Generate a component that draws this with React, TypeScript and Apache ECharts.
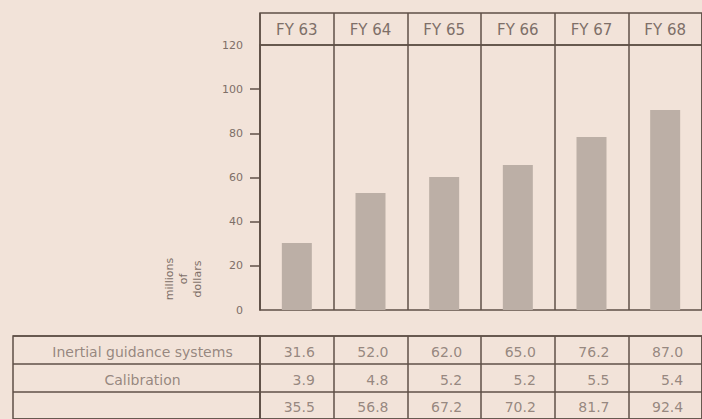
import React, { useEffect, useRef } from "react";
import * as echarts from "echarts";

const years = ["FY 63", "FY 64", "FY 65", "FY 66", "FY 67", "FY 68"];
const barHeights = [30.3, 53.0, 60.2, 65.7, 78.3, 90.6];
const inertial = [31.6, 52.0, 62.0, 65.0, 76.2, 87.0];
const calibration = [3.9, 4.8, 5.2, 5.2, 5.5, 5.4];
const totals = [35.5, 56.8, 67.2, 70.2, 81.7, 92.4];
const rowLabels = ["Inertial guidance systems", "Calibration", ""];
const yTicks = [20, 40, 60, 80, 100];

const BG = "#f2e3d9";
const LINE = "#5f5047";
const TEXT = "#7e6f68";
const BAR = "#bcafa6";
const FONT = "DejaVu Sans";

export default function App() {
  const ref = useRef<HTMLDivElement>(null);
  useEffect(() => {
    document.body.style.margin = "0";
    document.body.style.background = BG;
    const chart = echarts.init(ref.current!, null, { renderer: "svg" });
    const rowKeys = ["r0", "r1", "r2"];
    const tableRows = [inertial, calibration, totals];
    const tableData: any[] = [];
    tableRows.forEach((row, ri) =>
      row.forEach((v, ci) => tableData.push([ci, ri, v]))
    );
    const labelData = rowLabels.map((t, ri) => [0, ri, t]);
    const gridBase = { show: true, borderColor: LINE, borderWidth: 1.5, backgroundColor: "transparent" };
    const hiddenValueAxis = (gi: number) => ({ type: "value", gridIndex: gi, show: false });
    chart.setOption({
      animation: false,
      backgroundColor: BG,
      textStyle: { fontFamily: FONT },
      grid: [
        { ...gridBase, left: 260, top: 45, width: 445, height: 265 },
        { ...gridBase, left: 260, top: 13, width: 445, height: 32 },
        { ...gridBase, left: 13, top: 336, width: 247, height: 86 },
        { ...gridBase, left: 260, top: 336, width: 445, height: 86 },
      ],
      xAxis: [
        {
          type: "category",
          gridIndex: 0,
          data: years,
          position: "top",
          axisLine: { show: false },
          axisTick: { show: false },
          axisLabel: { color: TEXT, fontSize: 15, margin: 8, fontFamily: FONT },
          splitLine: { show: true, lineStyle: { color: LINE, width: 1.5 } },
        },
        {
          type: "category",
          gridIndex: 1,
          data: years,
          axisLine: { show: false },
          axisTick: { show: false },
          axisLabel: { show: false },
          splitLine: { show: true, lineStyle: { color: LINE, width: 1.5 } },
        },
        {
          type: "category",
          gridIndex: 2,
          data: [""],
          axisLine: { show: false },
          axisTick: { show: false },
          axisLabel: { show: false },
        },
        {
          type: "category",
          gridIndex: 3,
          data: years,
          axisLine: { show: false },
          axisTick: { show: false },
          axisLabel: { show: false },
          splitLine: { show: true, lineStyle: { color: LINE, width: 1.5 } },
        },
      ],
      yAxis: [
        {
          type: "value",
          gridIndex: 0,
          min: 0,
          max: 120,
          interval: 20,
          axisLine: { show: true, lineStyle: { color: LINE, width: 1.5 } },
          axisTick: { show: true, length: 10, customValues: yTicks, lineStyle: { color: LINE, width: 1.5 } },
          axisLabel: { color: TEXT, fontSize: 11, margin: 17, fontFamily: FONT },
          splitLine: { show: false },
        },
        hiddenValueAxis(1),
        {
          type: "category",
          gridIndex: 2,
          data: rowKeys,
          inverse: true,
          axisLine: { show: false },
          axisTick: { show: false },
          axisLabel: { show: false },
          splitLine: { show: true, lineStyle: { color: LINE, width: 1.5 } },
        },
        {
          type: "category",
          gridIndex: 3,
          data: rowKeys,
          inverse: true,
          axisLine: { show: false },
          axisTick: { show: false },
          axisLabel: { show: false },
          splitLine: { show: true, lineStyle: { color: LINE, width: 1.5 } },
        },
      ],
      graphic: [
        {
          type: "text",
          x: 183,
          y: 279,
          rotation: Math.PI / 2,
          style: {
            text: "millions\nof\ndollars",
            fill: TEXT,
            fontSize: 11,
            fontFamily: FONT,
            lineHeight: 14,
            align: "center",
            verticalAlign: "middle",
          },
        },
      ],
      series: [
        {
          type: "bar",
          xAxisIndex: 0,
          yAxisIndex: 0,
          data: barHeights,
          barWidth: 30,
          itemStyle: { color: BAR },
        },
        {
          type: "scatter",
          xAxisIndex: 2,
          yAxisIndex: 2,
          data: labelData,
          symbolSize: 0,
          label: {
            show: true,
            position: "inside",
            offset: [6, 2],
            formatter: (p: any) => p.value[2],
            color: TEXT,
            fontSize: 14,
            fontFamily: FONT,
          },
        },
        {
          type: "scatter",
          xAxisIndex: 3,
          yAxisIndex: 3,
          data: tableData,
          symbolSize: 0,
          label: {
            show: true,
            position: "inside",
            align: "right",
            offset: [18, 2],
            formatter: (p: any) => p.value[2].toFixed(1),
            color: TEXT,
            fontSize: 14,
            fontFamily: FONT,
          },
        },
      ],
    });
    return () => chart.dispose();
  }, []);
  return <div ref={ref} style={{ width: 702, height: 419 }} />;
}
